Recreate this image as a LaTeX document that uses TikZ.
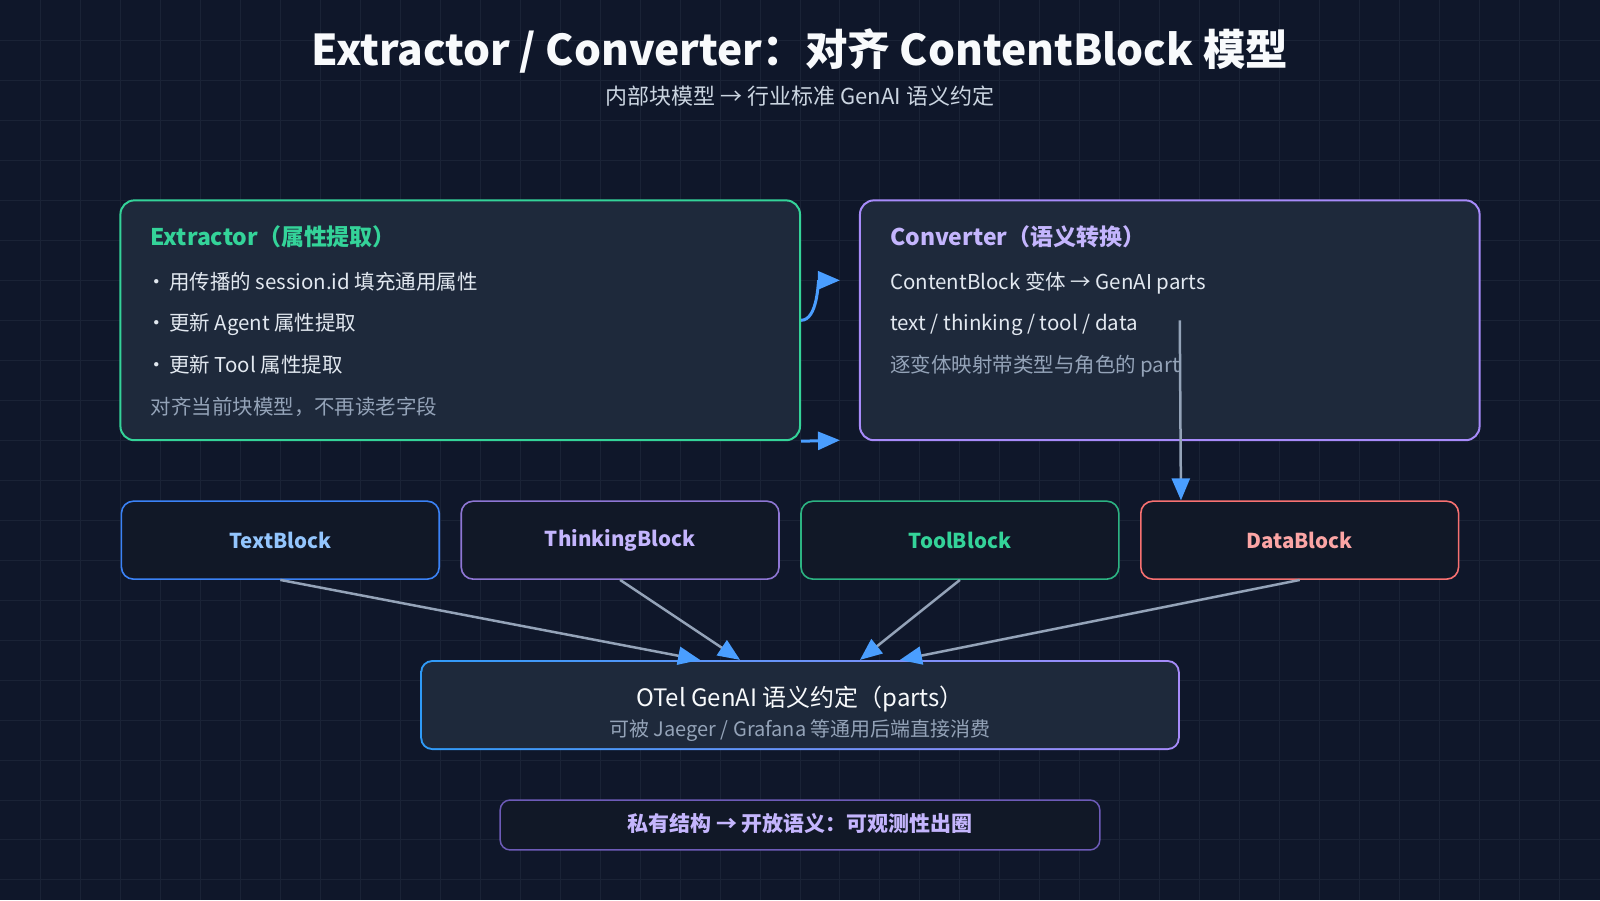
\documentclass[tikz,border=0pt]{standalone}
\usepackage{fontspec}
\setmainfont{Noto Sans CJK SC}
\usetikzlibrary{arrows.meta,calc}
\definecolor{bgc}{HTML}{0F172A}
\definecolor{gridc}{HTML}{1A2336}
\definecolor{panelc}{HTML}{1E293B}
\definecolor{blockc}{HTML}{111827}
\definecolor{cgreen}{HTML}{34D399}
\definecolor{cpurple}{HTML}{A78BFA}
\definecolor{lpurple}{HTML}{C4B5FD}
\definecolor{cblue}{HTML}{3B82F6}
\definecolor{lblue}{HTML}{93C5FD}
\definecolor{cred}{HTML}{F87171}
\definecolor{lred}{HTML}{FCA5A5}
\definecolor{arrowc}{HTML}{4A9EFF}
\definecolor{linec}{HTML}{94A3B8}
\definecolor{textc}{HTML}{E2E8F0}
\definecolor{notec}{HTML}{94A3B8}
\definecolor{subc}{HTML}{CBD5E1}
\definecolor{titlec}{HTML}{F8FAFC}
\definecolor{bannerc}{HTML}{6D5BB8}
\newcommand\fsz[1]{\fontsize{#1}{#1}\selectfont}
\newcommand\bul{\hspace*{-4pt}·\hspace{2pt}}
\begin{document}
\begin{tikzpicture}[x=1pt,y=-1pt,
  gridline/.style={draw=gridc,line width=1pt},
  panelbox/.style={fill=panelc,line width=2pt,rounded corners=14pt,inner sep=0pt},
  blockbox/.style={fill=blockc,line width=1.6pt,rounded corners=12pt,minimum width=318pt,minimum height=78pt,font=\fsz{20.5pt}\bfseries},
  lefttext/.style={anchor=base west,inner sep=0pt},
  bodytext/.style={lefttext,text=textc,font=\fsz{20.5pt}},
  notetext/.style={lefttext,text=notec,font=\fsz{20.5pt}},
  conn/.style={draw=linec,line width=2.5pt,-{Triangle[length=22pt,width=18pt,color=arrowc]}},
  bconn/.style={draw=arrowc,line width=3pt,-{Triangle[length=22pt,width=18pt,color=arrowc]}}
]
\fill[bgc] (0,0) rectangle (1600,900);
\foreach \i in {40,80,...,1560} \draw[gridline] (\i,0) -- (\i,900);
\foreach \j in {40,80,...,880} \draw[gridline] (0,\j) -- (1600,\j);
\useasboundingbox (0,0) rectangle (1600,900);

% title
\node[text=titlec,font=\fsz{42.5pt}\bfseries,inner sep=0pt,anchor=base] (title) at (800,65) {Extractor / Converter：对齐 ContentBlock 模型};
\node[text=subc,font=\fsz{22pt},inner sep=0pt,anchor=base] (subtitle) at (800,104) {内部块模型 → 行业标准 GenAI 语义约定};

% extractor panel
\node[panelbox,draw=cgreen,minimum width=680pt,minimum height=240pt] (ex) at (460,320) {};
\node[lefttext,text=cgreen,font=\fsz{23pt}\bfseries] (exT) at (150,245) {Extractor（属性提取）};
\node[bodytext] (ex1) at (150,289) {\bul 用传播的 session.id 填充通用属性};
\node[bodytext] (ex2) at (150,330) {\bul 更新 Agent 属性提取};
\node[bodytext] (ex3) at (150,372) {\bul 更新 Tool 属性提取};
\node[notetext] (ex4) at (150,414) {对齐当前块模型，不再读老字段};

% converter panel
\node[panelbox,draw=cpurple,minimum width=620pt,minimum height=240pt] (cv) at (1170,320) {};
\node[lefttext,text=lpurple,font=\fsz{23pt}\bfseries] (cvT) at (890,245) {Converter（语义转换）};
\node[bodytext] (cv1) at (890,289) {ContentBlock 变体 → GenAI parts};
\node[bodytext] (cv2) at (890,330) {text / thinking / tool / data};
\node[notetext] (cv3) at (890,372) {逐变体映射带类型与角色的 part};

% blue arrows between panels
\coordinate (c1) at (840,280);
\coordinate (c2) at (840,440);
\draw[bconn] (ex.east) .. controls (818,320) and (818,280) .. (c1);
\draw[bconn] (ex.south east) -- (c2);

% blocks
\node[blockbox,draw=cblue,text=lblue] (tb) at (280,540) {TextBlock};
\node[blockbox,draw=cpurple!85!black,text=lpurple] (thb) at (620,540) {ThinkingBlock};
\node[blockbox,draw=cgreen!85!black,text=cgreen] (tlb) at (960,540) {ToolBlock};
\node[blockbox,draw=cred,text=lred] (db) at (1300,540) {DataBlock};

% vertical arrow
\coordinate (vs) at (1180,320);
\draw[conn] (vs) -- ($(db.north west)+(41,0)$);

% OTel box with gradient border
\node[left color=cblue!80!cyan,right color=cpurple,rounded corners=12pt,minimum width=760pt,minimum height=90pt,inner sep=0pt,
  path picture={\fill[panelc,rounded corners=10pt] ($(path picture bounding box.south west)+(2pt,2pt)$) rectangle ($(path picture bounding box.north east)-(2pt,2pt)$);}] (otel) at (800,705) {};
\node[text=titlec,font=\fsz{24pt},inner sep=0pt,anchor=base] (otelT) at (800,706) {OTel GenAI 语义约定（parts）};
\node[text=notec,font=\fsz{20pt},inner sep=0pt,anchor=base] (otelS) at (800,736) {可被 Jaeger / Grafana 等通用后端直接消费};

% converging arrows
\draw[conn] (tb.south) -- ($(otel.north)+(-100,0)$);
\draw[conn] (thb.south) -- ($(otel.north)+(-60,0)$);
\draw[conn] (tlb.south) -- ($(otel.north)+(60,0)$);
\draw[conn] (db.south) -- ($(otel.north)+(100,0)$);

% banner
\node[fill=blockc,draw=bannerc,line width=1.5pt,rounded corners=10pt,minimum width=600pt,minimum height=50pt,inner sep=0pt] (banner) at (800,825) {};
\node[text=lpurple,font=\fsz{21pt}\bfseries,inner sep=0pt,anchor=base] (bannerT) at (800,832) {私有结构 → 开放语义：可观测性出圈};
\end{tikzpicture}
\end{document}
